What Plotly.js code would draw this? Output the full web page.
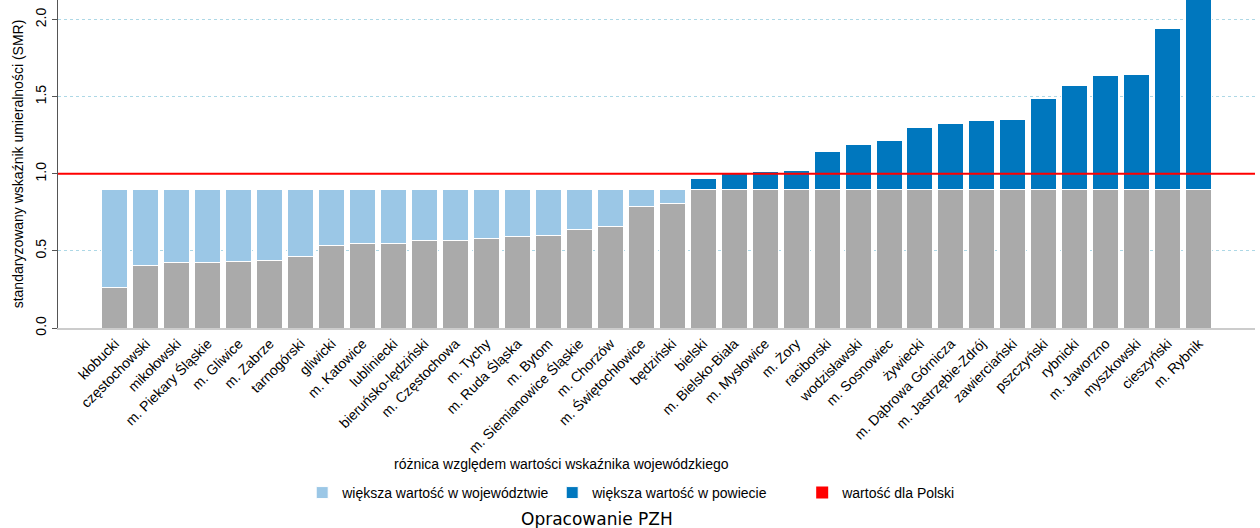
<!DOCTYPE html>
<html>
<head>
<meta charset="utf-8">
<script src="https://cdn.plot.ly/plotly-3.0.1.min.js"></script>
<style>html,body{margin:0;padding:0;background:#fff;}#chart{width:1260px;height:528px;}</style>
</head>
<body>
<div id="chart"></div>
<script>
const powiaty = ["kłobucki","częstochowski","mikołowski","m. Piekary Śląskie","m. Gliwice","m. Zabrze","tarnogórski","gliwicki","m. Katowice","lubliniecki","bieruńsko-lędziński","m. Częstochowa","m. Tychy","m. Ruda Śląska","m. Bytom","m. Siemianowice Śląskie","m. Chorzów","m. Świętochłowice","będziński","bielski","m. Bielsko-Biała","m. Mysłowice","m. Żory","raciborski","wodzisławski","m. Sosnowiec","żywiecki","m. Dąbrowa Górnicza","m. Jastrzębie-Zdrój","zawierciański","pszczyński","rybnicki","m. Jaworzno","myszkowski","cieszyński","m. Rybnik"];
const smrPowiat = [0.265,0.404,0.425,0.427,0.430,0.438,0.466,0.534,0.547,0.551,0.566,0.567,0.583,0.592,0.600,0.637,0.659,0.789,0.806,0.969,1.005,1.016,1.023,1.146,1.192,1.218,1.302,1.328,1.343,1.354,1.488,1.573,1.638,1.644,1.940,2.250];
const smrWojewodztwo = 0.90;
const smrPolska = 1.0;
const legendNames = ["większa wartość w województwie","większa wartość w powiecie","wartość dla Polski"];

const base = smrPowiat.map(v => Math.min(v, smrWojewodztwo));
const wyzszaWoj = smrPowiat.map(v => Math.max(smrWojewodztwo - v, 0));
const wyzszaPow = smrPowiat.map(v => Math.max(v - smrWojewodztwo, 0));

const lineW = {color:'#ffffff', width:1};
const traces = [
  {type:'bar', x:powiaty, y:base, marker:{color:'#aaaaaa', line:lineW}, showlegend:false, hoverinfo:'skip'},
  {type:'bar', x:powiaty, y:wyzszaWoj, name:legendNames[0], marker:{color:'#9bc7e6', line:lineW}},
  {type:'bar', x:powiaty, y:wyzszaPow, name:legendNames[1], marker:{color:'#0077be', line:lineW}},
  {type:'bar', x:powiaty, y:powiaty.map(()=>null), name:legendNames[2], marker:{color:'#ff0000'}}
];

const layout = {
  width:1260, height:528,
  margin:{l:58, r:5, t:0, b:200},
  barmode:'stack', bargap:0.16,
  paper_bgcolor:'#ffffff', plot_bgcolor:'#ffffff',
  font:{family:'Liberation Sans, Arial, sans-serif', size:14, color:'#000'},
  xaxis:{type:'category', range:[-1.84, 36.82], tickangle:-45, showgrid:false,
         showline:true, linecolor:'#cccccc', linewidth:2, ticks:'', tickfont:{size:14}, zeroline:false},
  yaxis:{range:[0, 2.127], tickvals:[0,0.5,1,1.5,2], ticktext:['0.0','0.5','1.0','1.5','2.0'],
         tickangle:-90, ticks:'outside', ticklen:5, tickcolor:'#555', showline:true, linecolor:'#555', linewidth:1,
         showgrid:true, gridcolor:'#add8e6', griddash:'dot', gridwidth:1, zeroline:false,
         title:{text:'standaryzowany wskaźnik umieralności (SMR)', font:{size:14}, standoff:6}, tickfont:{size:14}},
  shapes:[{type:'line', xref:'paper', x0:0, x1:1, yref:'y', y0:smrPolska, y1:smrPolska, line:{color:'#ff0000', width:2}, layer:'above'}],
  legend:{orientation:'h', x:0.204, xanchor:'left', y:-0.503, yanchor:'middle', entrywidth:205, font:{size:14}, traceorder:'normal'},
  annotations:[
    {text:'różnica względem wartości wskaźnika wojewódzkiego', xref:'paper', yref:'paper', x:(561-58)/1197, y:(328-464)/328, showarrow:false, xanchor:'center', yanchor:'middle', font:{size:14}},
    {text:'Opracowanie PZH', xref:'paper', yref:'paper', x:(597-58)/1197, y:(328-519)/328, showarrow:false, xanchor:'center', yanchor:'middle', font:{size:17, family:'DejaVu Sans, sans-serif'}}
  ]
};
Plotly.newPlot('chart', traces, layout, {displayModeBar:false, staticPlot:true});
</script>
</body>
</html>
